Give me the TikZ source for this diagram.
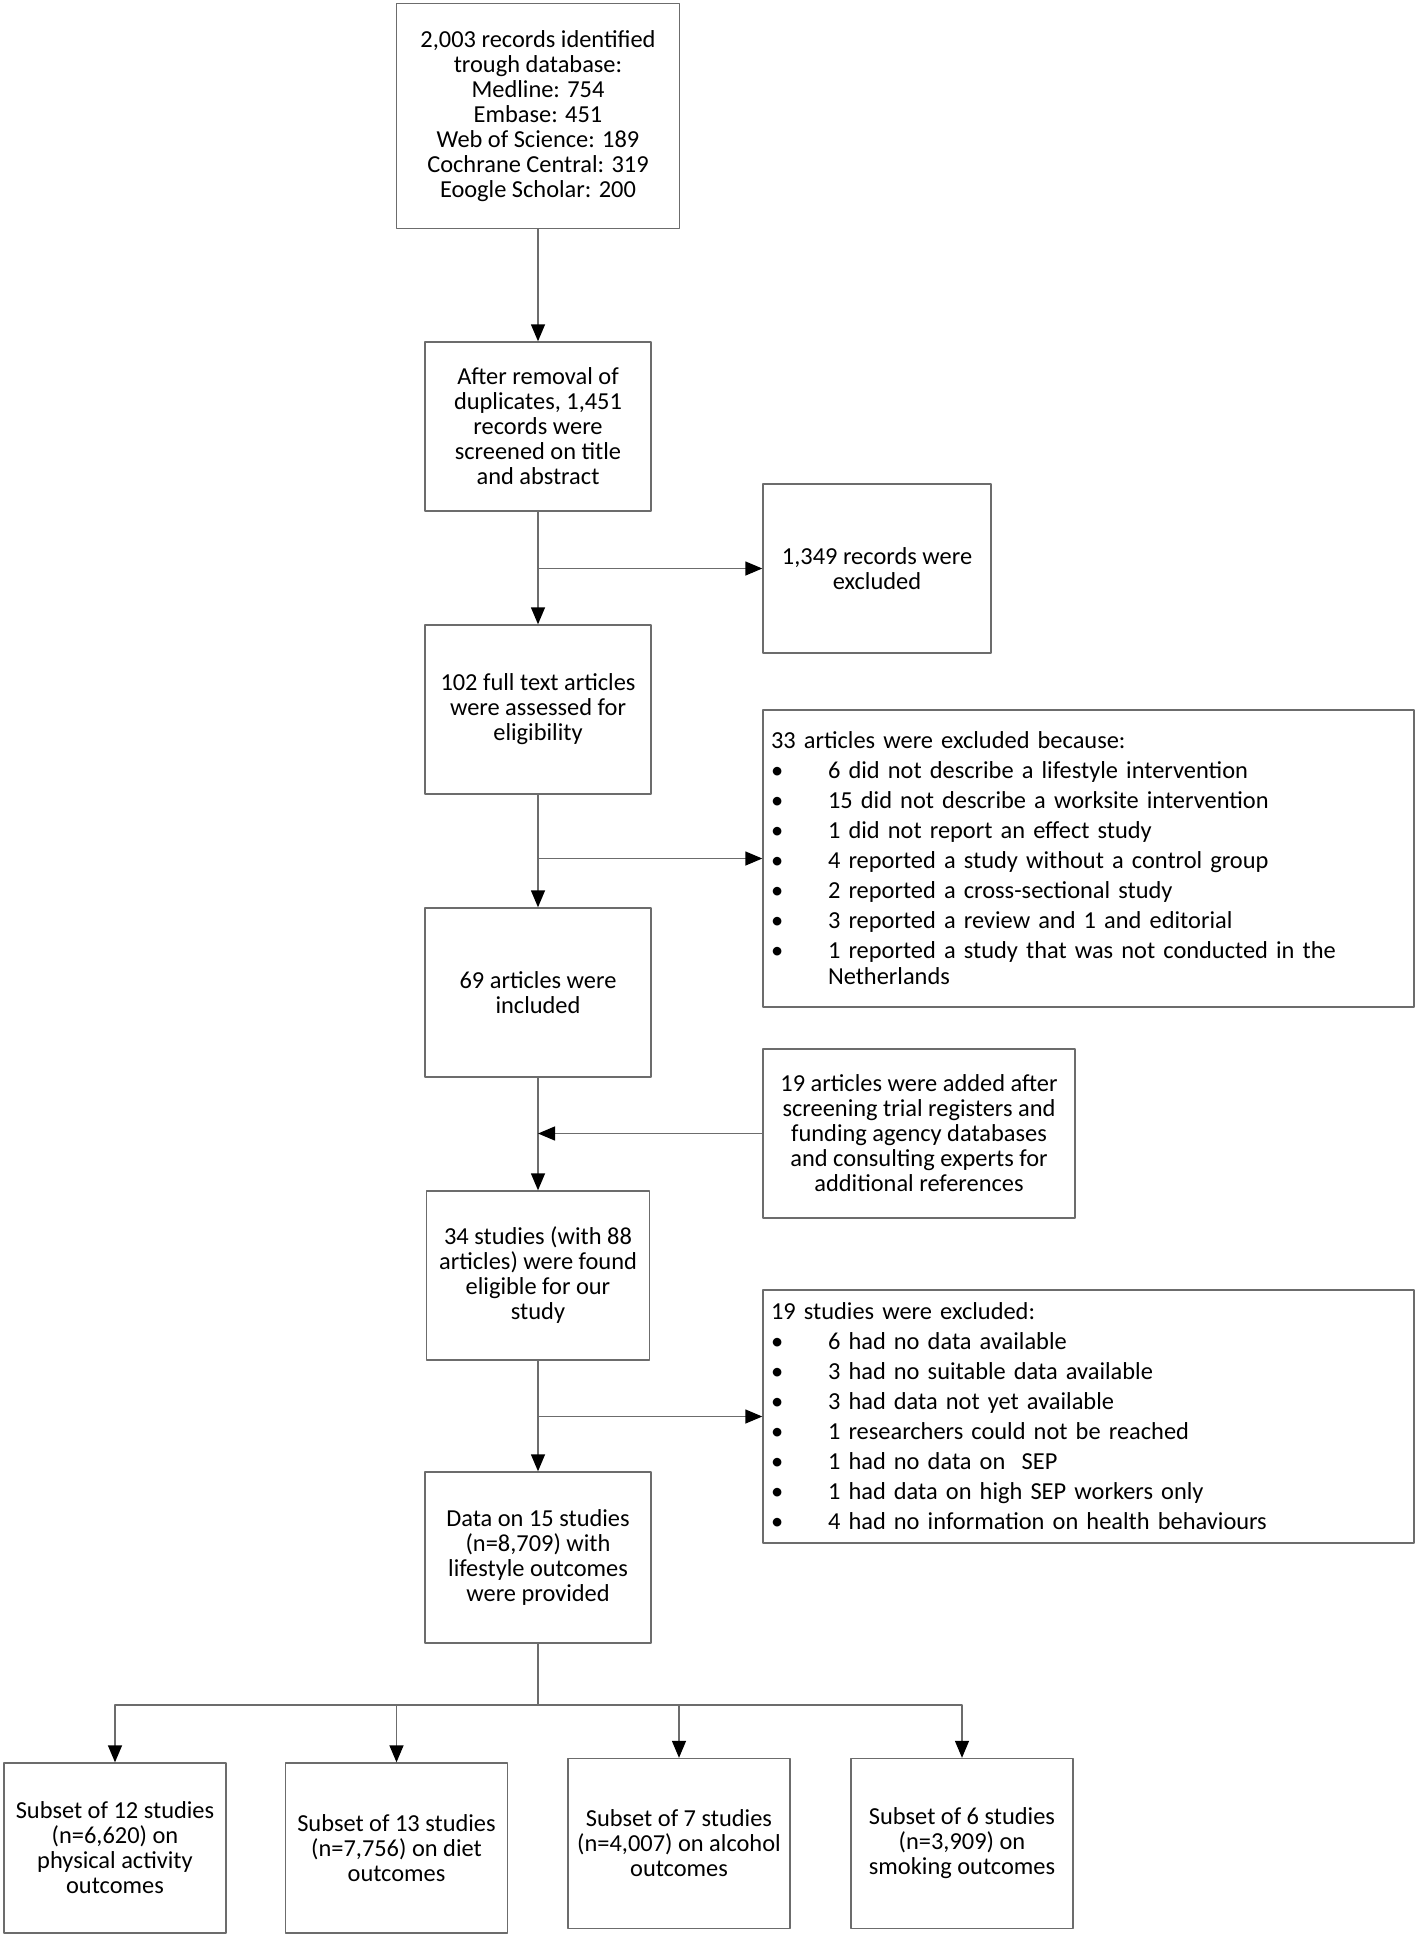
\documentclass[tikz,border=0pt]{standalone}
\usepackage{fontspec}
\setmainfont{Carlito}
\usetikzlibrary{arrows.meta}
\newcommand{\bitem}[1]{\makebox[57pt][l]{\textbullet}#1}
\begin{document}
\begin{tikzpicture}[x=1pt,y=-1pt, font=\fontsize{24.4}{25}\selectfont, line join=round,
	box/.style={draw=gray!85!black, line width=1.4pt, align=center, inner xsep=3pt, inner ysep=8pt, minimum width=226pt, minimum height=169pt},
	list/.style={box, align=left, inner xsep=8pt, text width=635pt, minimum width=651pt, font=\fontsize{24.4}{30}\selectfont},
	arr/.style={draw=gray!85!black, line width=1.4pt, -{Triangle[width=14pt,length=17pt,color=black]}}]
	\useasboundingbox (0,0) rectangle (1418,1936);
	% main column
	\node[box, minimum width=283pt, minimum height=225pt] (rec) at (538,116)
	{2,003 records identified\\ trough database:\\ Medline: 754\\ Embase: 451\\ Web of Science: 189\\ Cochrane Central: 319\\ Eoogle Scholar: 200};
	\node[box] (scr) at (538,426.5) {After removal of\\ duplicates, 1,451\\ records were\\ screened on title\\ and abstract};
	\node[box] (full) at (538,709.5) {102 full text articles\\ were assessed for\\ eligibility};
	\node[box] (incl) at (538,992.5) {69 articles were\\ included};
	\node[box, minimum width=223pt] (elig) at (538,1275.5) {34 studies (with 88\\ articles) were found\\ eligible for our\\ study};
	\node[box, minimum height=171pt] (data) at (538,1557.5) {Data on 15 studies\\ (n=8,709) with\\ lifestyle outcomes\\ were provided};
	% side boxes
	\node[box, minimum width=228pt] (exa) at (877,568.5) {1,349 records were\\ excluded};
	\node[list, minimum height=297pt] (exb) at (1088.5,858.5)
	{33 articles were excluded because:\\
	\bitem{6 did not describe a lifestyle intervention}\\
	\bitem{15 did not describe a worksite intervention}\\
	\bitem{1 did not report an effect study}\\
	\bitem{4 reported a study without a control group}\\
	\bitem{2 reported a cross-sectional study}\\
	\bitem{3 reported a review and 1 and editorial}\\
	\bitem{1 reported a study that was not conducted in the}\\[-4pt]
	\hspace*{57pt}Netherlands};
	\node[box, minimum width=312pt] (add) at (919,1133.5) {19 articles were added after\\ screening trial registers and\\ funding agency databases\\ and consulting experts for\\ additional references};
	\node[list, minimum height=253pt] (exc) at (1088.5,1416.5)
	{19 studies were excluded:\\
	\bitem{6 had no data available}\\
	\bitem{3 had no suitable data available}\\
	\bitem{3 had data not yet available}\\
	\bitem{1 researchers could not be reached}\\
	\bitem{1 had no data on\ \ SEP}\\
	\bitem{1 had data on high SEP workers only}\\
	\bitem{4 had no information on health behaviours}};
	% subsets
	\node[box, minimum width=222pt, minimum height=170pt] (pa) at (115,1848) {Subset of 12 studies\\ (n=6,620) on\\ physical activity\\ outcomes};
	\node[box, minimum width=222pt, minimum height=170pt] (diet) at (396.5,1848) {Subset of 13 studies\\ (n=7,756) on diet\\ outcomes};
	\node[box, minimum width=222pt, minimum height=170pt] (alc) at (679,1843.5) {Subset of 7 studies\\ (n=4,007) on alcohol\\ outcomes};
	\node[box, minimum width=222pt, minimum height=170pt] (smok) at (962,1843.5) {Subset of 6 studies\\ (n=3,909) on\\ smoking outcomes};
	% connectors
	\draw[arr] (rec) -- (scr);
	\draw[arr] (scr) -- (full);
	\draw[arr] (full) -- (incl);
	\draw[arr] (incl) -- (elig);
	\draw[arr] (elig) -- (data);
	\draw[arr] (scr.south |- exa.west) -- (exa.west);
	\draw[arr] (full.south |- exb.west) -- (exb.west);
	\draw[arr] (add.west) -- (incl.south |- add.west);
	\draw[arr] (elig.south |- exc.west) -- (exc.west);
	\coordinate (split) at (538,1705);
	\draw[draw=gray!85!black, line width=1.4pt] (data) -- (split);
	\foreach \b in {pa,diet,alc,smok}
	\draw[arr] (split) -| (\b.north);
\end{tikzpicture}
\end{document}
